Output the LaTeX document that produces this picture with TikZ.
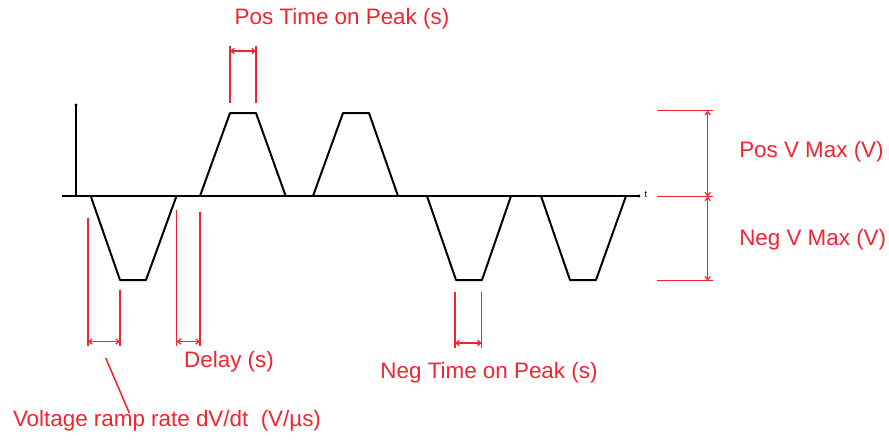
\documentclass[tikz,border=0pt]{standalone}
\usepackage{fontspec}
\setmainfont{Liberation Sans}
\usetikzlibrary{arrows.meta}
\definecolor{dimred}{RGB}{242,36,48}
\begin{document}
\begin{tikzpicture}[x=0.75pt,y=-0.75pt,
  wave/.style={black,line width=1.5pt,line join=round},
  dimline/.style={dimred,line width=1.15pt},
  dimarrow/.style={dimred,line width=0.9pt,{Straight Barb[length=2.5pt,width=4pt]}-{Straight Barb[length=2.5pt,width=4pt]}},
  lbl/.style={text=dimred,font=\fontsize{16.8}{20}\selectfont,inner sep=0pt}]
\useasboundingbox (0,0) rectangle (889,440);
% axes
\coordinate (o) at (76,196);
\coordinate (ytop) at (76,105);
\coordinate (xl) at (62,196);
\coordinate (xr) at (639,196);
\draw[wave] (o) -- (ytop);
\draw[wave] (xl) -- (xr);
\fill (ytop) circle (1.6);
\fill (xr) circle (1.6);
\node[font=\fontsize{7}{8}\selectfont,anchor=west,inner sep=1pt] (t) at (643,195) {t};
% waveform
\draw[wave] (90.7,196) -- (120,280) -- (146,280) -- (176.5,196);
\draw[wave] (200,196) -- (230,113) -- (256,113) -- (285.7,196);
\draw[wave] (313,196) -- (343,113) -- (369,113) -- (398,196);
\draw[wave] (427,196) -- (456,280) -- (482,280) -- (511,196);
\draw[wave] (541,196) -- (570,280) -- (596,280) -- (626,196);
% ramp rate
\coordinate (r1t) at (88,218); \coordinate (r1b) at (88,346);
\coordinate (r2t) at (120,290); \coordinate (r2b) at (120,346);
\draw[dimline] (r1t) -- (r1b);
\draw[dimline] (r2t) -- (r2b);
\draw[dimarrow] (88,341.5) -- (120,341.5);
\node[lbl] (ramp) at (167,421) {Voltage ramp rate dV/dt\ \ (V/µs)};
\coordinate (ls) at (105.7,358);
\coordinate (le) at (129.3,413);
\draw[dimline] (ls) -- (le);
% delay
\coordinate (d1t) at (176.7,210); \coordinate (d1b) at (176.7,346);
\coordinate (d2t) at (200,212); \coordinate (d2b) at (200,346);
\draw[dimline] (d1t) -- (d1b);
\draw[dimline] (d2t) -- (d2b);
\draw[dimarrow] (176.7,341.5) -- (200,341.5);
\node[lbl] (delay) at (229,362) {Delay (s)};
% pos time on peak
\coordinate (p1t) at (230,46); \coordinate (p1b) at (230,103);
\coordinate (p2t) at (256,46); \coordinate (p2b) at (256,103);
\draw[dimline] (p1t) -- (p1b);
\draw[dimline] (p2t) -- (p2b);
\draw[dimarrow] (230,51) -- (256,51);
\node[lbl] (ptp) at (342,19) {Pos Time on Peak (s)};
% neg time on peak
\coordinate (n1t) at (455,292); \coordinate (n1b) at (455,348);
\coordinate (n2t) at (481.7,292); \coordinate (n2b) at (481.7,348);
\draw[dimline] (n1t) -- (n1b);
\draw[dimline] (n2t) -- (n2b);
\draw[dimarrow] (455,343) -- (481.7,343);
\node[lbl] (ntp) at (489,373) {Neg Time on Peak (s)};
% voltage max
\coordinate (h1l) at (657,110.7); \coordinate (h1r) at (713,110.7);
\coordinate (h2l) at (657,196.5); \coordinate (h2r) at (713,196.5);
\coordinate (h3l) at (657,280.7); \coordinate (h3r) at (713,280.7);
\draw[dimline] (h1l) -- (h1r);
\draw[dimline] (h2l) -- (h2r);
\draw[dimline] (h3l) -- (h3r);
\draw[dimarrow] (707.7,110.7) -- (707.7,196.5);
\draw[dimarrow] (707.7,196.5) -- (707.7,280.7);
\node[lbl,anchor=west] (pvm) at (739,152) {Pos V Max (V)};
\node[lbl,anchor=west] (nvm) at (739,240) {Neg V Max (V)};
\end{tikzpicture}
\end{document}
